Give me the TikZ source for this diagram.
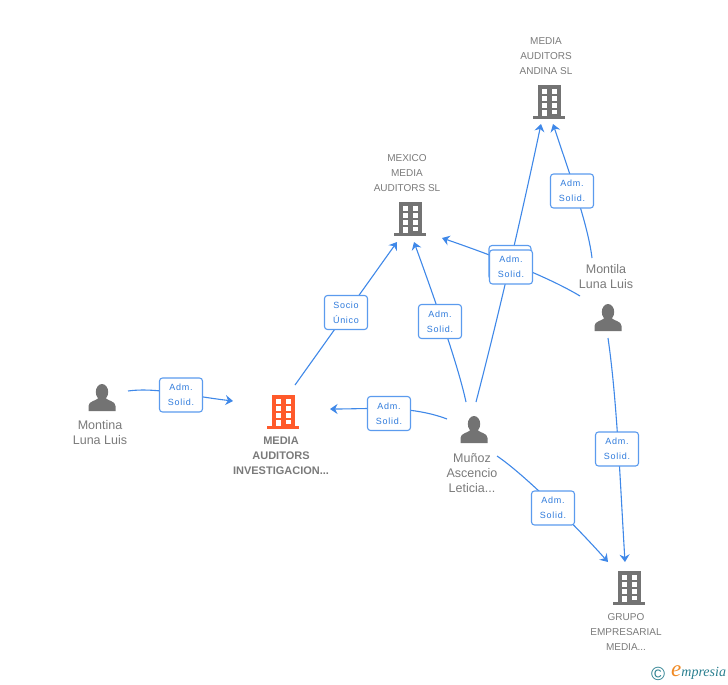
\documentclass[tikz,border=0pt]{standalone}
\usepackage{fontspec}
\setmainfont{Liberation Sans}
\newfontfamily\lblfont[LetterSpace=8]{Liberation Sans}
\newfontfamily\logofont{Liberation Serif}
\usetikzlibrary{arrows.meta,backgrounds}
\definecolor{linkblue}{HTML}{3F88E8}
\definecolor{boxblue}{HTML}{5B9BEE}
\definecolor{lbltext}{HTML}{2F7BDC}
\definecolor{icongray}{HTML}{737373}
\definecolor{textgray}{HTML}{7A7A7A}
\definecolor{mainorange}{HTML}{FF5A2B}
\definecolor{logoteal}{HTML}{2A7F8F}
\definecolor{logoorange}{HTML}{F08A24}
\tikzset{
  x=1pt,y=-1pt,
  conn/.style={draw=linkblue,line width=1.1pt,-{Stealth[length=7.5pt,width=10pt,inset=2.5pt]}},
  linkbox/.style={draw=boxblue,fill=white,line width=1.1pt,rounded corners=3pt,minimum width=43pt,minimum height=34pt,inner sep=0pt,align=center,text=lbltext,font=\lblfont\fontsize{9}{15}\selectfont},
  caption/.style={align=center,text=textgray,inner sep=0pt,font=\fontsize{10}{15}\selectfont},
  personcaption/.style={caption,font=\fontsize{12.5}{15}\selectfont},
  maincaption/.style={caption,font=\fontsize{11}{15}\selectfont\bfseries},
  pics/building/.style={code={
    \fill[#1] (-11,-17) rectangle (11.5,14);
    \fill[#1] (-16,14) rectangle (16,17);
    \foreach \r in {-13,-6,1}{
      \fill[white] (-7.5,\r) rectangle (-2.5,\r+4.5);
      \fill[white] (2.5,\r) rectangle (7.5,\r+4.5);
    }
    \fill[white] (2.5,7.5) rectangle (7.5,12);
    \fill[white] (-7.5,7.5) rectangle (-2.5,14);
  }},
  pics/person/.style={code={
    \fill[icongray] (0,-6) ellipse (6.2 and 8);
    \fill[icongray] (-13.5,13) -- (-13.5,8) .. controls (-13.5,3) and (-6,3) .. (-3.5,0) -- (3.5,0) .. controls (6,3) and (13.5,3) .. (13.5,8) -- (13.5,13) -- cycle;
  }}
}
\begin{document}
\begin{tikzpicture}
\useasboundingbox (0,0) rectangle (728,685);
% icons
\pic at (549,102) {building=icongray};
\pic at (410,219) {building=icongray};
\pic at (283,412) {building=mainorange};
\pic at (629,588) {building=icongray};
\pic at (102,398) {person};
\pic at (474,430) {person};
\pic at (608,318) {person};
% captions
\node[caption] (andina) at (546,56) {MEDIA\\AUDITORS\\ANDINA SL};
\node[caption] (mexico) at (407,173) {MEXICO\\MEDIA\\AUDITORS SL};
\node[maincaption] (media) at (281,455.5) {MEDIA\\AUDITORS\\INVESTIGACION...};
\node[caption] (grupo) at (626,632) {GRUPO\\EMPRESARIAL\\MEDIA...};
\node[personcaption] (montina) at (100,433) {Montina\\Luna Luis};
\node[personcaption] (munoz) at (472,473) {Muñoz\\Ascencio\\Leticia...};
\node[personcaption] (montila) at (606,277) {Montila\\Luna Luis};
% link labels
\node[linkbox,minimum width=42pt] (lblback) at (510,262.5) {};
\node[linkbox] (lbl1) at (181,395) {Adm.\\Solid.};
\node[linkbox] (lbl2) at (346,312.5) {Socio\\Único};
\node[linkbox] (lbl3) at (440,321.5) {Adm.\\Solid.};
\node[linkbox] (lbl4) at (511,267) {Adm.\\Solid.};
\node[linkbox] (lbl5) at (572,191) {Adm.\\Solid.};
\node[linkbox] (lbl6) at (617,449) {Adm.\\Solid.};
\node[linkbox] (lbl7) at (553,508) {Adm.\\Solid.};
\node[linkbox] (lbl8) at (389,413.5) {Adm.\\Solid.};
% connector ends
\coordinate (s1) at (128,391);   \coordinate (t1) at (233,401);
\coordinate (s2) at (295,385);   \coordinate (t2) at (397,242);
\coordinate (s3) at (466,402);   \coordinate (t3) at (414,242);
\coordinate (s4) at (476,402);   \coordinate (t4) at (541,124);
\coordinate (s5) at (580,296);   \coordinate (t5) at (442,238);
\coordinate (s6) at (592,258);   \coordinate (t6) at (553,124);
\coordinate (s7) at (608,338);   \coordinate (t7) at (625,562);
\coordinate (s8) at (497,456);   \coordinate (t8) at (608,562);
\coordinate (s9) at (447,419);   \coordinate (t9) at (330,409);
\begin{scope}[on background layer]
\draw[conn] (s1) .. controls (155,387) and (190,396) .. (t1);
\draw[conn] (s2) -- (t2);
\draw[conn] (s3) .. controls (458,365) and (435,300) .. (t3);
\draw[conn] (s4) .. controls (500,310) and (525,200) .. (t4);
\draw[conn] (s5) .. controls (550,278) and (500,258) .. (t5);
\draw[conn] (s6) .. controls (588,225) and (570,175) .. (t6);
\draw[conn] (s7) .. controls (617,400) and (620,480) .. (t7);
\draw[conn] (s8) .. controls (525,475) and (575,525) .. (t8);
\draw[conn] (s9) .. controls (410,405) and (370,409) .. (t9);
\end{scope}
% logo
\node[inner sep=0pt,text=logoteal,font=\fontsize{19}{19}\selectfont] (copyr) at (658,673.5) {©};
\node[inner sep=0pt,anchor=west,font=\logofont\itshape\fontsize{14}{15}\selectfont,text=logoteal] (logo) at (671,673) {\textcolor{logoorange}{\fontsize{23}{15}\selectfont e}mpresia};
\end{tikzpicture}
\end{document}
